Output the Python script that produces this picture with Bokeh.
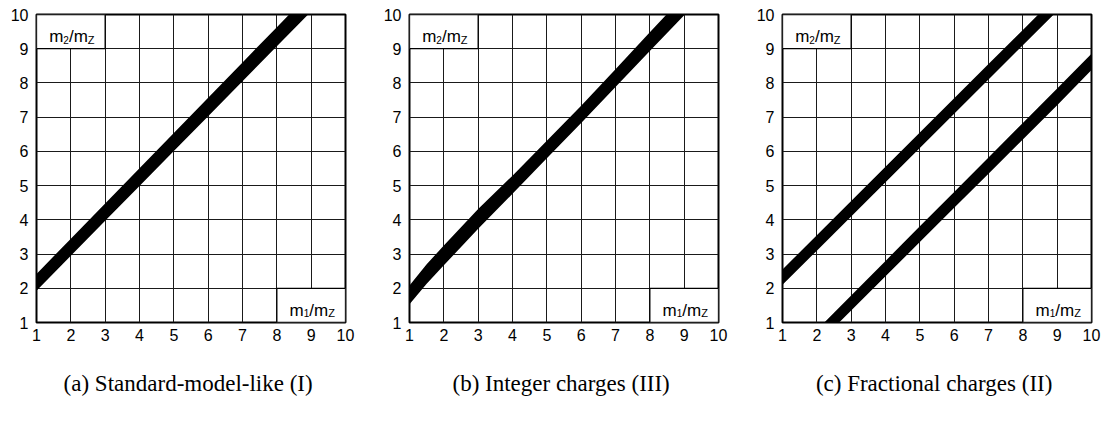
from bokeh.plotting import figure
from bokeh.layouts import row
from bokeh.models import FixedTicker, Range1d
from bokeh.core.properties import value
from bokeh.embed import file_html
from bokeh.resources import INLINE

# ---- data ----
ticks = [1, 2, 3, 4, 5, 6, 7, 8, 9, 10]
tick_labels = ["1", "2", "3", "4", "5", "6", "7", "8", "9", "10"]

captions = ["(a)  Standard-model-like (I)",
            "(b)  Integer charges (III)",
            "(c)  Fractional charges (II)"]

# (a) Standard-model-like: band edges of m2/mZ vs m1/mZ
a_x = [1, 2, 3, 4, 5, 6, 7, 8, 9, 10]
a_low = [1.93, 2.95, 3.97, 4.99, 6.01, 7.03, 8.05, 9.07, 10.09, 11.11]
a_high = [2.42, 3.45, 4.48, 5.51, 6.54, 7.57, 8.60, 9.63, 10.66, 11.69]

# (b) Integer charges
b_x = [1, 1.5, 2, 3, 4, 5, 6, 7, 8, 9, 10]
b_low = [1.53, 2.13, 2.67, 3.74, 4.76, 5.80, 6.83, 7.88, 8.93, 9.98, 11.03]
b_high = [2.08, 2.70, 3.25, 4.32, 5.29, 6.31, 7.33, 8.40, 9.48, 10.55, 11.60]

# (c) Fractional charges: two bands
c_x = [1, 2, 3, 4, 5, 6, 7, 8, 9, 10]
c1_low = [2.10, 3.10, 4.10, 5.10, 6.10, 7.10, 8.10, 9.10, 10.10, 11.10]
c1_high = [2.55, 3.55, 4.55, 5.55, 6.55, 7.55, 8.55, 9.55, 10.55, 11.55]
c2_low = [-0.65, 0.35, 1.35, 2.35, 3.35, 4.35, 5.35, 6.35, 7.35, 8.38]
c2_high = [-0.23, 0.78, 1.79, 2.80, 3.81, 4.81, 5.82, 6.83, 7.84, 8.85]

# axis-name boxes (data coordinates of box corners)
ybox = dict(left=1, right=3, bottom=9, top=10, sub="2")
xbox = dict(left=8, right=10, bottom=1, top=2, sub="1")


def add_name(p, box):
    cx = (box["left"] + box["right"]) / 2
    cy = (box["bottom"] + box["top"]) / 2
    p.quad(left=[box["left"]], right=[box["right"]], bottom=[box["bottom"]],
           top=[box["top"]], fill_color="white", line_color="black",
           line_width=1.3)
    start = -21.7
    segs = [("m", "17px", 0.0, 5.0), (box["sub"], "10px", 14.2, 8.0),
            ("/", "17px", 19.8, 5.0), ("m", "17px", 24.5, 5.0),
            ("Z", "11px", 38.7, 8.0)]
    for txt, size, dx, dy in segs:
        p.text(x=[cx], y=[cy], text=[txt], x_offset=start + dx, y_offset=dy,
               text_font=value("Liberation Sans"), text_font_size=size,
               text_align="left", text_baseline="alphabetic",
               text_color="black")


def make_panel(caption, bands, right_border):
    p = figure(frame_width=309, frame_height=308,
               x_range=Range1d(1, 10), y_range=Range1d(1, 10),
               output_backend="svg", toolbar_location=None,
               min_border_left=36, min_border_right=right_border,
               min_border_top=14, min_border_bottom=111)
    p.background_fill_color = "white"
    p.border_fill_color = "white"
    p.outline_line_color = "black"
    p.outline_line_width = 2
    for g in (p.xgrid, p.ygrid):
        g.ticker = FixedTicker(ticks=ticks)
        g.grid_line_color = "#1a1a1a"
        g.grid_line_width = 1
    for ax in (p.xaxis, p.yaxis):
        ax.ticker = FixedTicker(ticks=ticks)
        ax.major_label_overrides = {t: l for t, l in zip(ticks, tick_labels)}
        ax.axis_line_color = None
        ax.major_tick_line_color = None
        ax.minor_tick_line_color = None
        ax.major_tick_out = 0
        ax.major_tick_in = 0
        ax.major_label_text_font = "Liberation Sans"
        ax.major_label_text_font_size = "16px"
        ax.major_label_text_color = "black"
    p.xaxis.major_label_standoff = 6
    p.yaxis.major_label_standoff = 8
    p.xaxis.axis_label = caption
    p.xaxis.axis_label_text_font = "Liberation Serif"
    p.xaxis.axis_label_text_font_style = "normal"
    p.xaxis.axis_label_text_font_size = "23px"
    p.xaxis.axis_label_text_color = "black"
    p.xaxis.axis_label_standoff = 27
    for x, lo, hi in bands:
        p.varea(x=x, y1=lo, y2=hi, fill_color="black")
    add_name(p, ybox)
    add_name(p, xbox)
    return p


pa = make_panel(captions[0], [(a_x, a_low, a_high)], 28)
pb = make_panel(captions[1], [(b_x, b_low, b_high)], 28)
pc = make_panel(captions[2], [(c_x, c1_low, c1_high), (c_x, c2_low, c2_high)], 11)

layout = row(pa, pb, pc)
open("out.html", "w").write(file_html(layout, INLINE))
